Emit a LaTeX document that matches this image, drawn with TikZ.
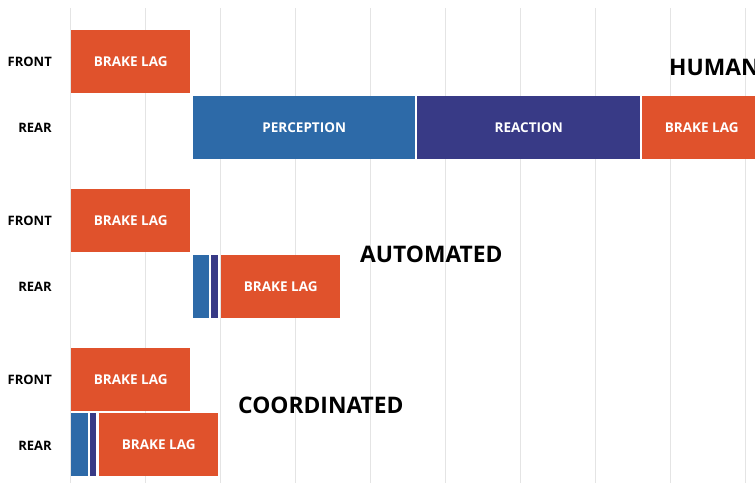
\documentclass[tikz,border=0pt]{standalone}
\usepackage{fontspec}
\setmainfont{Open Sans}
\definecolor{lagorange}{RGB}{224,82,44}
\definecolor{percblue}{RGB}{45,106,168}
\definecolor{reacblue}{RGB}{56,58,134}
\definecolor{gridgray}{RGB}{228,228,228}
\begin{document}
\begin{tikzpicture}[x=1pt, y=-1pt]
    % Estilos
    \tikzstyle{bar} = [rectangle, anchor=north west, inner sep=0pt, minimum height=63pt, text=white, font=\bfseries\fontsize{13.5}{13.5}\selectfont]
    \tikzstyle{lag} = [bar, fill=lagorange]
    \tikzstyle{perc} = [bar, fill=percblue]
    \tikzstyle{reac} = [bar, fill=reacblue]
    \tikzstyle{row} = [anchor=east, inner sep=0pt, font=\bfseries\fontsize{13}{13}\selectfont]
    \tikzstyle{group} = [anchor=west, inner sep=0pt, font=\bfseries\fontsize{22.8}{22.8}\selectfont]

    \useasboundingbox (0,0) rectangle (755,483);
    \clip (0,0) rectangle (755,483);

    % Rejilla
    \foreach \gx in {70,145,...,745}
        \draw [gridgray, line width=1pt] (\gx,8) -- (\gx,483);

    % Humano
    \node (hfront) [lag, minimum width=119pt] at (71,30) {BRAKE LAG};
    \node (hperc) [perc, minimum width=222pt] at (193,96) {PERCEPTION};
    \node (hreac) [reac, minimum width=223pt] at (417,96) {REACTION};
    \node (hlag) [lag, minimum width=119pt] at (642,96) {BRAKE LAG};
    \node (hname) [group] at (669,67) {HUMAN};

    % Automatizado
    \node (afront) [lag, minimum width=119pt] at (71,189) {BRAKE LAG};
    \node (aperc) [perc, minimum width=16pt] at (193,255) {};
    \node (areac) [reac, minimum width=7pt] at (211,255) {};
    \node (alag) [lag, minimum width=119pt] at (221,255) {BRAKE LAG};
    \node (aname) [group] at (360,254) {AUTOMATED};

    % Coordinado
    \node (cfront) [lag, minimum width=119pt] at (71,348) {BRAKE LAG};
    \node (cperc) [perc, minimum width=17pt] at (71,413) {};
    \node (creac) [reac, minimum width=6pt] at (90,413) {};
    \node (clag) [lag, minimum width=119pt] at (99,413) {BRAKE LAG};
    \node (cname) [group] at (238,405) {COORDINATED};

    % Etiquetas de fila
    \node (hf) [row] at (52,62) {FRONT};
    \node (hr) [row] at (52,128) {REAR};
    \node (af) [row] at (52,221) {FRONT};
    \node (ar) [row] at (52,287) {REAR};
    \node (cf) [row] at (52,380) {FRONT};
    \node (cr) [row] at (52,446) {REAR};
\end{tikzpicture}
\end{document}
